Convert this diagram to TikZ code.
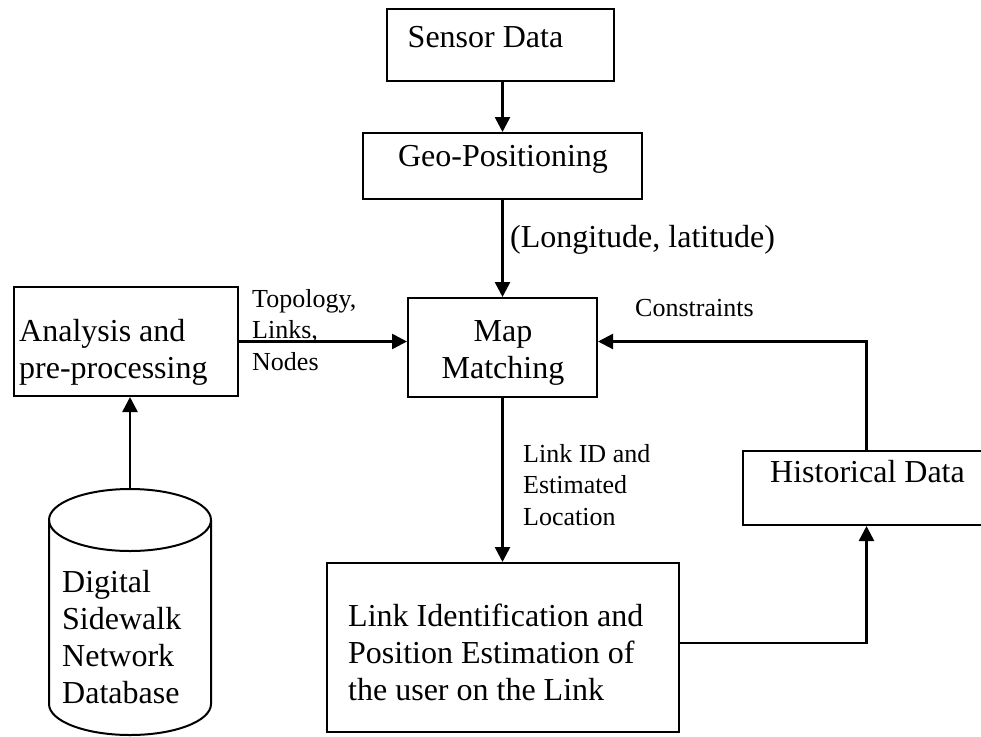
\documentclass[tikz,border=0pt]{standalone}
\usepackage{fontspec}
\setmainfont{Liberation Serif}
\usetikzlibrary{arrows.meta}
\begin{document}
\begin{tikzpicture}[x=1pt,y=-1pt,
  box/.style={draw,line width=2pt,inner sep=0pt},
  txt/.style={inner sep=0pt,font=\fontsize{32}{37}\selectfont},
  lbl/.style={inner sep=0pt,font=\fontsize{26}{31.5}\selectfont,align=left},
  arr/.style={line width=2.6pt,-{Triangle[length=15pt,width=15pt]}},
  thin arr/.style={line width=2.1pt,-{Triangle[length=15pt,width=15pt]}}]
\useasboundingbox (0,0) rectangle (981,736);
\clip (0,0) rectangle (981,736);
% boxes
\node[box,minimum width=227pt,minimum height=72pt] (sensor) at (500.5,45) {};
\node[txt] (sensortxt) at (485.5,37) {Sensor Data};
\node[box,minimum width=279pt,minimum height=66pt] (geo) at (502.5,166) {};
\node[txt] (geotxt) at (503,159.6) {Geo-Positioning};
\node[box,minimum width=189pt,minimum height=99pt] (map) at (502.5,347.5) {};
\node[txt,align=center] (maptxt) at (503,352.6) {Map\\Matching};
\node[box,minimum width=224pt,minimum height=109pt] (ana) at (126,341.5) {};
\node[txt,align=left,anchor=west] (anatxt) at (19,352.6) {Analysis and\\pre-processing};
\node[box,minimum width=247pt,minimum height=74pt] (hist) at (866.5,488) {};
\node[txt] (histtxt) at (867.5,472) {Historical Data};
\node[box,minimum width=352pt,minimum height=169pt] (link) at (503,647.5) {};
\node[txt,align=left,anchor=west] (linktxt) at (348,652.1) {Link Identification and\\Position Estimation of\\the user on the Link};
% database cylinder
\draw[line width=2pt] (130,520) ellipse [x radius=81, y radius=31];
\draw[line width=2pt] (49,520) -- (49,704) arc[start angle=180, end angle=0, x radius=81, y radius=31] -- (211,520);
\coordinate (dbtop) at (130,489);
\node[txt,align=left,anchor=west] (db) at (62,637) {Digital\\Sidewalk\\Network\\Database};
% connectors
\draw[arr] (geo.north |- sensor.south) -- (geo.north);
\draw[arr] (geo.south) -- (geo.south |- map.north);
\draw[arr] (ana.east) -- (ana.east -| map.west);
\draw[thin arr] (hist.north) |- (map.east |- ana.east);
\draw[arr] (map.south) -- (map.south |- link.north);
\draw[arr] ([yshift=4.5pt]link.east) -| (hist.south);
\draw[arr] (dbtop) -- (dbtop |- ana.south);
% labels
\node[txt,anchor=west] (lonlat) at (510,239.4) {(Longitude, latitude)};
\node[lbl,anchor=west] (topo) at (252,330) {Topology,\\Links,\\Nodes};
\node[lbl,anchor=west] (constr) at (635,308) {Constraints};
\node[lbl,anchor=west] (linkid) at (523,484.6) {Link ID and\\Estimated\\Location};
\end{tikzpicture}
\end{document}
